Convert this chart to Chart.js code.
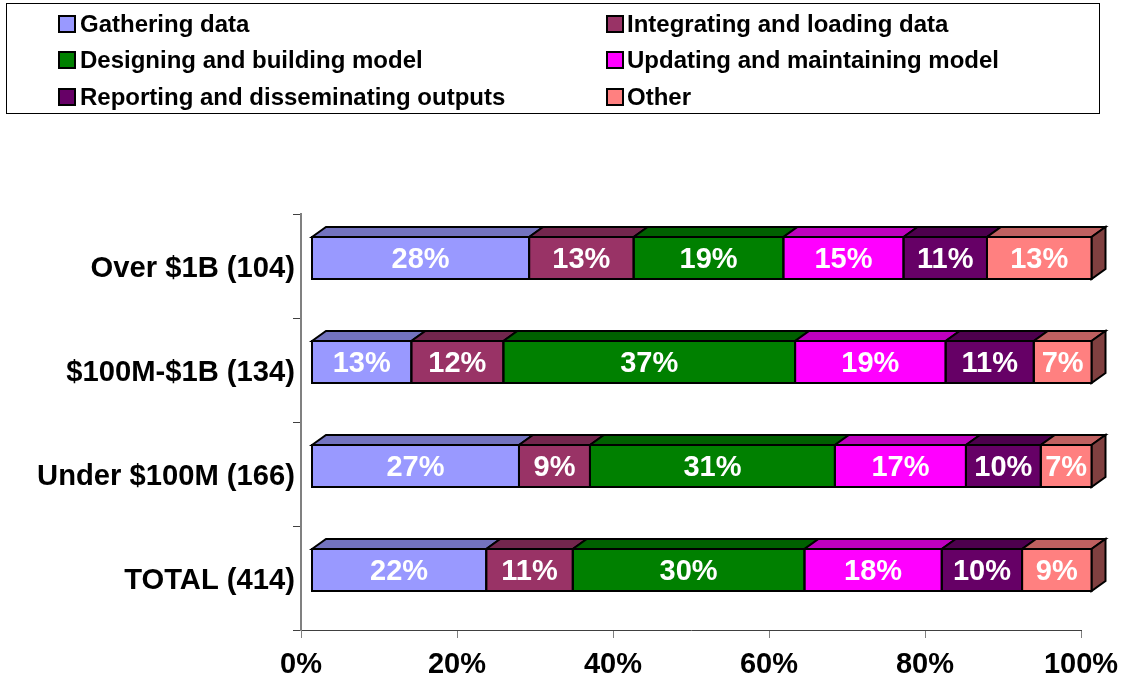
<!DOCTYPE html>
<html>
<head>
<meta charset="utf-8">
<title>Time spent by activity</title>
<script src="https://cdn.jsdelivr.net/npm/chart.js@4"></script>
<style>
  html, body { margin: 0; padding: 0; background: #fff; }
  canvas { display: block; }
</style>
</head>
<body>
<canvas id="chart" width="1127" height="681"></canvas>
<script>
const categories = ["Over $1B (104)", "$100M-$1B (134)", "Under $100M (166)", "TOTAL (414)"];
const seriesNames = [
  "Gathering data",
  "Integrating and loading data",
  "Designing and building model",
  "Updating and maintaining model",
  "Reporting and disseminating outputs",
  "Other",
];
const gathering = [27.9, 12.8, 26.6, 22.4];
const integrating = [13.4, 11.8, 9.1, 11.1];
const designing = [19.2, 37.4, 31.4, 29.7];
const updating = [15.4, 19.3, 16.8, 17.6];
const reporting = [10.7, 11.3, 9.6, 10.3];
const other = [13.4, 7.4, 6.5, 8.9];
const seriesValues = [gathering, integrating, designing, updating, reporting, other];

const faceColors = ["#9999ff", "#993366", "#008000", "#ff00ff", "#660066", "#ff8080"];
const topColors = ["#7373bf", "#73264d", "#006000", "#bf00bf", "#4d004d", "#bf6060"];
const sideColor = "#804040";

const FONT = '"Liberation Sans", Arial, sans-serif';
// the front of the 3d bars sits off the axis, depth goes up and right
const shiftX = 10.5, shiftY = -8, depthX = 14, depthY = 10;

function poly(ctx, pts, fill) {
  ctx.beginPath();
  pts.forEach((p, i) => (i ? ctx.lineTo(p[0], p[1]) : ctx.moveTo(p[0], p[1])));
  ctx.closePath();
  ctx.fillStyle = fill;
  ctx.fill();
  ctx.stroke();
}

const bars3d = {
  id: "bars3d",
  beforeDatasetsDraw(chart) {
    const ctx = chart.ctx;
    ctx.save();
    ctx.translate(shiftX, shiftY);
    ctx.strokeStyle = "#000";
    ctx.lineWidth = 2;
    ctx.lineJoin = "miter";
    const last = chart.data.datasets.length - 1;
    chart.data.datasets.forEach((ds, d) => {
      chart.getDatasetMeta(d).data.forEach((bar) => {
        const top = bar.y - bar.height / 2;
        const bottom = bar.y + bar.height / 2;
        poly(ctx, [
          [bar.base, top],
          [bar.base + depthX, top - depthY],
          [bar.x + depthX, top - depthY],
          [bar.x, top],
        ], topColors[d]);
        if (d === last) {
          poly(ctx, [
            [bar.x, top],
            [bar.x + depthX, top - depthY],
            [bar.x + depthX, bottom - depthY],
            [bar.x, bottom],
          ], sideColor);
        }
      });
    });
    // translate stays on for the bars themselves, restored below
  },
  afterDatasetsDraw(chart) {
    const ctx = chart.ctx;
    chart.data.datasets.forEach((ds, d) => {
      chart.getDatasetMeta(d).data.forEach((bar, i) => {
        ctx.strokeRect(bar.base, bar.y - bar.height / 2, bar.x - bar.base, bar.height);
        ctx.fillStyle = "#fff";
        ctx.font = "bold 29px " + FONT;
        ctx.textAlign = "center";
        ctx.textBaseline = "middle";
        ctx.fillText(Math.round(ds.data[i]) + "%", (bar.base + bar.x) / 2, bar.y + 2);
      });
    });
    ctx.restore();
  },
};

const legendRows = [24, 60, 97];
const legendCols = [59, 607];

const boxLegend = {
  id: "boxLegend",
  afterDraw(chart) {
    const ctx = chart.ctx;
    ctx.save();
    ctx.strokeStyle = "#000";
    ctx.lineWidth = 1;
    ctx.strokeRect(6.5, 3.5, 1093, 110);
    ctx.font = "bold 24px " + FONT;
    ctx.textBaseline = "middle";
    ctx.textAlign = "left";
    ctx.lineWidth = 2;
    chart.data.datasets.forEach((ds, d) => {
      const x = legendCols[d % 2];
      const y = legendRows[Math.floor(d / 2)];
      ctx.fillStyle = faceColors[d];
      ctx.fillRect(x, y - 8, 16, 16);
      ctx.strokeRect(x, y - 8, 16, 16);
      ctx.fillStyle = "#000";
      ctx.fillText(ds.label, x + 21 - d % 2, y + 1);
    });
    ctx.restore();
  },
};

new Chart(document.getElementById("chart"), {
  type: "bar",
  data: {
    labels: categories,
    datasets: seriesNames.map((name, d) => ({
      label: name,
      data: seriesValues[d],
      backgroundColor: faceColors[d],
      borderWidth: 0,
      barThickness: 42,
      clip: false,
    })),
  },
  options: {
    indexAxis: "y",
    responsive: false,
    animation: false,
    layout: { padding: { top: 214, right: 46, left: 0, bottom: 0 } },
    plugins: { legend: { display: false }, tooltip: { enabled: false } },
    scales: {
      x: {
        stacked: true,
        min: 0,
        max: 100,
        afterFit(scale) {
          scale.height = 51;
          scale.paddingRight = 0;
        },
        grid: { drawOnChartArea: false, tickLength: 8, color: "#808080" },
        border: { color: "#404040", width: 1 },
        ticks: {
          stepSize: 20,
          maxRotation: 0,
          padding: 10,
          color: "#000",
          font: { family: FONT, weight: "bold", size: 29 },
          callback: (v) => v + "%",
        },
      },
      y: {
        stacked: true,
        afterFit(scale) { scale.width = 301; },
        grid: { drawOnChartArea: false, tickLength: 8, color: "#404040" },
        border: { color: "#808080", width: 2 },
        ticks: {
          padding: -2,
          labelOffset: 3,
          color: "#000",
          font: { family: FONT, weight: "bold", size: 29.2 },
        },
      },
    },
  },
  plugins: [bars3d, boxLegend],
});
</script>
</body>
</html>
